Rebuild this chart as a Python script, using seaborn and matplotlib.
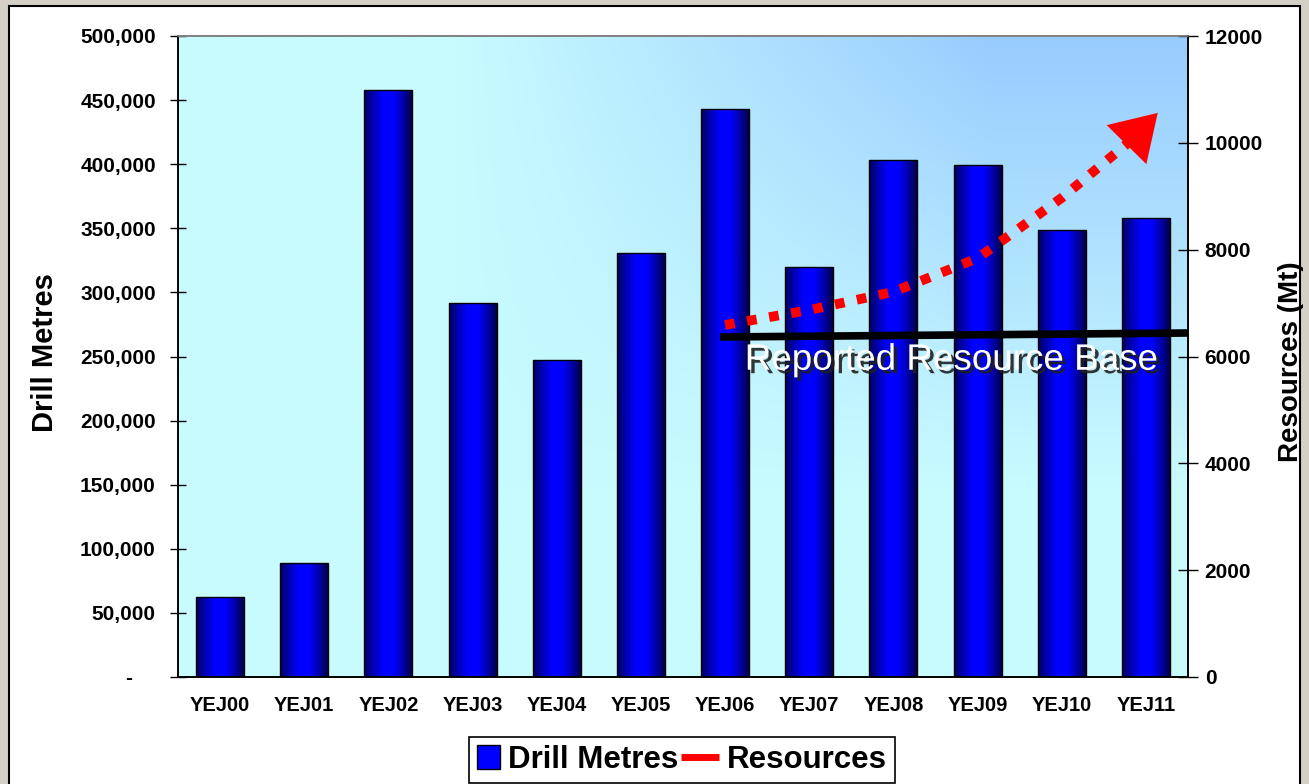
import numpy as np
import pandas as pd
import matplotlib
matplotlib.use("Agg")
import matplotlib.pyplot as plt
import seaborn as sns
from matplotlib.patches import Rectangle, Patch
from matplotlib.lines import Line2D
from matplotlib.colors import LinearSegmentedColormap
from matplotlib.ticker import FuncFormatter, FixedLocator
from matplotlib.legend_handler import HandlerPatch, HandlerBase
import matplotlib.patheffects as pe

# ---------------- data ----------------
years = ["YEJ00", "YEJ01", "YEJ02", "YEJ03", "YEJ04", "YEJ05",
         "YEJ06", "YEJ07", "YEJ08", "YEJ09", "YEJ10", "YEJ11"]
drill_metres = [62500, 89000, 458000, 292000, 247000, 331000,
                443000, 320000, 403000, 399000, 349000, 358000]

# reported resource base (black line), category positions and Mt values
base_pos = [5.94, 11.5]
base_mt = [6365, 6440]

# projected resources trend (red dotted arrow)
trend_pos = [6.0, 7.0, 8.0, 9.0, 10.0, 10.8]
trend_mt = [6590, 6870, 7210, 7840, 8970, 10015]
arrow_tip_pos = 11.14
arrow_tip_mt = 10560

left_ticks = [0, 50000, 100000, 150000, 200000, 250000, 300000,
              350000, 400000, 450000, 500000]
right_ticks = [0, 2000, 4000, 6000, 8000, 10000, 12000]

df = pd.DataFrame({"year": years, "drill": drill_metres})

# ---------------- figure ----------------
sns.set_style("white")
plt.rcParams["font.family"] = ["Liberation Sans", "DejaVu Sans"]
plt.rcParams["text.color"] = "black"
plt.rcParams["axes.labelcolor"] = "black"
plt.rcParams["xtick.color"] = "black"
plt.rcParams["ytick.color"] = "black"

W, H = 1309, 784
fig = plt.figure(figsize=(W / 100, H / 100), dpi=100)
fig.patch.set_facecolor("#d4d0c8")
fig.patches.append(Rectangle((8.5 / W, -0.05), (1300 - 8.5) / W, 1.05 - 6 / H,
                             transform=fig.transFigure, facecolor="white",
                             edgecolor="black", linewidth=1.5, zorder=-10))

ax = fig.add_axes([178 / W, 1 - 677 / H, (1188 - 178) / W, 641 / H])
ax.set_facecolor("none")

# background gradient (blue towards the top-right)
ny, nx = 200, 320
u = np.linspace(0, 1, nx)[None, :]
v = np.linspace(0, 1, ny)[:, None]
fu = np.clip(1.9 * (u - 0.278), 0, 1)
gv = np.clip((v - 0.3) / 0.7, 0, 1)
t = fu * gv
c0 = np.array([0xc8, 0xfb, 0xfe]) / 255
c1 = np.array([0x99, 0xcc, 0xff]) / 255
bg = c0[None, None, :] * (1 - t[..., None]) + c1[None, None, :] * t[..., None]
ax.imshow(bg, extent=(0, 1, 0, 1), transform=ax.transAxes, aspect="auto",
          origin="lower", zorder=0, interpolation="bilinear")

sns.barplot(data=df, x="year", y="drill", ax=ax, color="#0000ff", width=0.57,
            edgecolor="black", linewidth=1.0, saturation=1)

bar_cmap = LinearSegmentedColormap.from_list(
    "cyl", [(0, "#000060"), (0.2, "#0000b8"), (0.4, "#0000ff"),
            (0.62, "#0000ff"), (0.82, "#0000a8"), (1, "#00004a")])
grad = np.linspace(0, 1, 100)[None, :]
for p in list(ax.patches):
    bb = p.get_bbox()
    im = ax.imshow(grad, extent=(bb.x0, bb.x1, bb.y0, bb.y1), aspect="auto",
                   cmap=bar_cmap, zorder=2, origin="lower")
    im.set_clip_path(p)
    p.set_facecolor("none")
    p.set_zorder(3)

ax.set_xlim(-0.5, 11.5)
ax.set_ylim(0, 500000)
ax.set_xlabel("")
ax.set_ylabel("")

# x ticks at category boundaries, labels at centers
ax.xaxis.set_major_locator(FixedLocator(np.arange(-0.5, 12, 1)))
ax.xaxis.set_major_formatter(FuncFormatter(lambda v_, p_: ""))
ax.set_xticks(range(12), labels=years, minor=True)
ax.tick_params(axis="x", which="major", direction="out", length=6, width=1, color="black")
ax.tick_params(axis="x", which="minor", length=0, pad=14, labelsize=14.5)
for lab in ax.get_xticklabels(minor=True):
    lab.set_fontweight("bold")

ax.set_yticks(left_ticks)
ax.yaxis.set_major_formatter(FuncFormatter(
    lambda v_, p_: "-    " if v_ == 0 else f"{int(v_):,}"))
ax.tick_params(axis="y", direction="inout", length=12, width=1, pad=10,
               labelsize=15, color="black")
for lab in ax.get_yticklabels():
    lab.set_fontweight("bold")

ax2 = ax.twinx()
ax2.set_ylim(0, 12000)
ax2.set_yticks(right_ticks)
ax2.yaxis.set_major_formatter(FuncFormatter(lambda v_, p_: f"{int(v_)}"))
ax2.tick_params(axis="y", direction="inout", length=14, width=1, pad=5,
                labelsize=15, color="black")
for lab in ax2.get_yticklabels():
    lab.set_fontweight("bold")

for a in (ax, ax2):
    for s in ("left", "bottom", "right"):
        a.spines[s].set_color("black")
        a.spines[s].set_linewidth(1.2)
    a.spines["top"].set_color("#808080")
    a.spines["top"].set_linewidth(1.2)

# reported resource base line
ax2.plot(base_pos, base_mt, color="black", lw=5.5, solid_capstyle="butt", zorder=5)

# projected trend dotted curve with arrow head
ax2.plot(trend_pos, trend_mt, color="red", lw=7, linestyle=(0, (1.0, 1.3)),
         dash_capstyle="butt", zorder=6)
ax2.annotate("", xy=(arrow_tip_pos, arrow_tip_mt),
             xytext=(trend_pos[-1], trend_mt[-1]),
             arrowprops=dict(arrowstyle="-|>,head_length=1.6,head_width=1.0",
                             color="red", lw=0.01, mutation_scale=20,
                             shrinkA=0, shrinkB=0), zorder=7)
ax2.set_xlim(-0.5, 11.5)

ax2.text(8.68, 5930, "Reported Resource Base", ha="center", va="center",
         fontsize=26.5, color="white",
         family=["Liberation Sans Narrow", "Liberation Sans", "DejaVu Sans"],
         path_effects=[pe.withSimplePatchShadow(offset=(2.5, -2.5),
                                                 shadow_rgbFace="#202020", alpha=0.9)],
         zorder=8)

# axis titles
fig.text(45 / W, 1 - 353 / H, "Drill Metres", rotation=90, ha="center", va="center",
         fontsize=21, fontweight="bold")
fig.text(1291 / W, 1 - 362 / H, "Resources (Mt)", rotation=90, ha="center",
         va="center", fontsize=20, fontweight="bold")


# legend
class SquareHandler(HandlerPatch):
    def create_artists(self, legend, orig_handle, xdescent, ydescent, width,
                       height, fontsize, trans):
        s = width
        rect = Rectangle((-xdescent, -ydescent + (height - s) / 2),
                         s, s, facecolor="#0000ff", edgecolor="black", lw=1,
                         transform=trans)
        return [rect]


class LongLineHandler(HandlerBase):
    def create_artists(self, legend, orig_handle, xdescent, ydescent, width,
                       height, fontsize, trans):
        y = -ydescent + height / 2
        ln = Line2D([-xdescent - 0.62 * width, -xdescent + width], [y, y],
                    color="red", lw=5, solid_capstyle="butt", transform=trans)
        return [ln]


handles = [Patch(facecolor="#0000ff", edgecolor="black"),
           Line2D([], [], color="red", lw=5)]
leg = fig.legend(handles, ["Drill Metres", "Resources"], ncol=2,
                 loc="center", bbox_to_anchor=(682 / W, 1 - 760 / H),
                 prop=dict(size=22.5, weight="bold"), frameon=True, fancybox=False,
                 edgecolor="black", framealpha=1, handlelength=0.75,
                 handletextpad=0.25, columnspacing=0.55, borderpad=0.25,
                 borderaxespad=0,
                 handler_map={Patch: SquareHandler(), Line2D: LongLineHandler()})
leg.get_frame().set_linewidth(1.2)

fig.savefig("out.png", dpi=100, facecolor=fig.get_facecolor())
